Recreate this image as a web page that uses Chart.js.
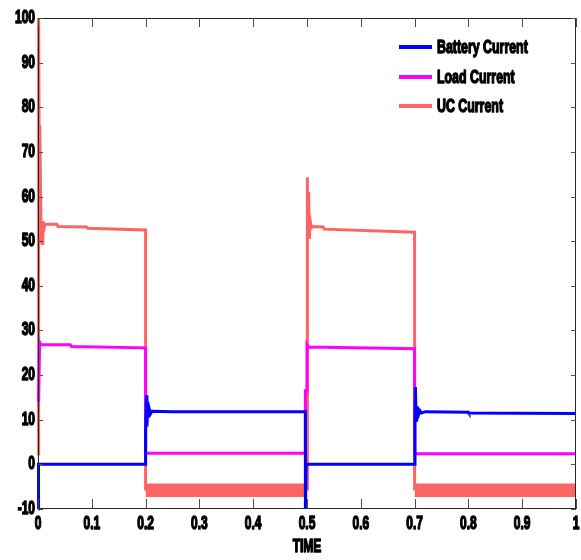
<!DOCTYPE html>
<html>
<head>
<meta charset="utf-8">
<script src="https://cdn.jsdelivr.net/npm/chart.js@4.4.1/dist/chart.umd.min.js"></script>
<style>
  html, body { margin: 0; padding: 0; background: #ffffff; }
  #wrap { width: 581px; height: 560px; position: relative; }
</style>
</head>
<body>
<div id="wrap"><canvas id="c" width="581" height="560"></canvas></div>
<script>
// ---- data ----
const xTicks = [0, 0.1, 0.2, 0.3, 0.4, 0.5, 0.6, 0.7, 0.8, 0.9, 1];
const yTicks = [-10, 0, 10, 20, 30, 40, 50, 60, 70, 80, 90, 100];
const seriesNames = ['Battery Current', 'Load Current', 'UC Current'];
const seriesColors = ['#0000ff', '#ff00ff', '#ff6464'];

const batteryT = [0.0005, 0.0005, 0.0015, 0.2, 0.2, 0.2015, 0.2025, 0.204, 0.2055, 0.207, 0.209, 0.212, 0.25, 0.497, 0.497, 0.4985, 0.7, 0.7007, 0.7015, 0.703, 0.705, 0.707, 0.71, 0.713, 0.72, 0.8, 0.801, 1];
const batteryI = [-10, -10, 0, 0, 7, 15.5, 8.5, 13, 10.5, 12.3, 11.3, 11.9, 11.8, 11.8, -10, 0, 0, 9.5, 17.3, 9.5, 13, 11, 12, 11.5, 11.8, 11.7, 11.5, 11.4];

const loadT = [0.001, 0.003, 0.005, 0.06, 0.062, 0.2, 0.2, 0.497, 0.497, 0.5, 0.5, 0.503, 0.7, 0.7, 1];
const loadI = [14, 27.3, 26.8, 26.8, 26.4, 26.1, 2.5, 2.5, 16.5, 16.5, 26.9, 26.3, 25.9, 2.4, 2.4];

const ucT = [0.0012, 0.0012, 0.002, 0.0035, 0.0045, 0.006, 0.0075, 0.009, 0.011, 0.013, 0.035, 0.037, 0.09, 0.092, 0.2, 0.2, 0.5, 0.5, 0.5015, 0.503, 0.5045, 0.506, 0.508, 0.512, 0.53, 0.532, 0.7, 0.7, 1];
const ucI = [2, 100, 76, 74, 64, 50, 49.5, 54.5, 52.8, 53.8, 53.8, 53.3, 53.2, 52.9, 52.5, -5.5, -5.5, 64.3, 57, 61, 50.5, 54.5, 53, 53.3, 53.2, 52.7, 52, -5.5, -5.5];

// switching ripple bands of the UC current (top edge, bottom edge)
const band1T = [0.2, 0.5];
const band2T = [0.7, 1];
const bandTop = -4.4;
const bandBottom = -7.3;

function pts(t, v) { return t.map((x, i) => ({ x: x, y: v[i] })); }

const FAMILY = "'Liberation Sans', Arial, sans-serif";
const tickFont = { family: FAMILY, size: 16, weight: 'bold' };
// MATLAB export look: glyphs narrower, taller and heavier than normal
const TEXT_SX = 0.75, TEXT_SY = 1.13;

const narrowTextPlugin = {
  id: 'narrowText',
  beforeDraw(chart) {
    const ctx = chart.ctx;
    if (ctx.__origFill) return;
    const orig = ctx.fillText;
    const origStroke = ctx.strokeText;
    ctx.__origFill = orig;
    ctx.fillText = function (text, x, y, maxWidth) {
      this.save();
      this.translate(x, y);
      this.scale(TEXT_SX, TEXT_SY);
      this.strokeStyle = this.fillStyle;
      this.lineWidth = 1.3;
      this.lineJoin = 'round';
      this.setLineDash([]);
      orig.call(this, text, 0, 0);
      origStroke.call(this, text, 0, 0);
      this.restore();
    };
  }
};

const framePlugin = {
  id: 'frame',
  afterDatasetsDraw(chart) {
    const { ctx, chartArea, scales } = chart;
    const { left, right, top, bottom } = chartArea;
    ctx.save();
    ctx.lineWidth = 1;
    ctx.strokeStyle = '#262626';
    ctx.strokeRect(left + 0.5, top + 0.5, right - left - 1, bottom - top - 1);
    ctx.strokeStyle = '#4d4d4d';
    ctx.beginPath();
    xTicks.forEach(v => {
      const px = Math.round(scales.x.getPixelForValue(v)) + 0.5;
      ctx.moveTo(px, bottom); ctx.lineTo(px, bottom - 10);
      ctx.moveTo(px, top); ctx.lineTo(px, top + 9);
    });
    yTicks.forEach(v => {
      const py = Math.round(scales.y.getPixelForValue(v)) + 0.5;
      ctx.moveTo(left, py); ctx.lineTo(left + 5, py);
      ctx.moveTo(right, py); ctx.lineTo(right - 5, py);
    });
    ctx.stroke();
    // legend (no box, as in the reference)
    ctx.font = "bold 16.5px " + FAMILY;
    ctx.textBaseline = 'middle';
    ctx.textAlign = 'left';
    ctx.fillStyle = '#000';
    const lx = 399, ly = 47, gap = 29.5;
    seriesNames.forEach((name, i) => {
      const yy = Math.round(ly + i * gap);
      ctx.strokeStyle = seriesColors[i];
      ctx.lineWidth = 4;
      ctx.beginPath(); ctx.moveTo(lx, yy); ctx.lineTo(lx + 33, yy); ctx.stroke();
      ctx.fillText(name, lx + 38, yy + 1);
    });
    ctx.restore();
  }
};

const lineDs = (i, t, v) => ({ label: seriesNames[i], data: pts(t, v), borderColor: seriesColors[i], borderWidth: 3, pointRadius: 0, fill: false, tension: 0, clip: 4 });

new Chart(document.getElementById('c'), {
  type: 'line',
  data: {
    datasets: [
      lineDs(0, batteryT, batteryI),
      lineDs(1, loadT, loadI),
      lineDs(2, ucT, ucI),
      { label: 'band1', data: pts(band1T, band1T.map(() => bandTop)), borderColor: seriesColors[2], backgroundColor: seriesColors[2], borderWidth: 1, pointRadius: 0, fill: { value: bandBottom }, tension: 0 },
      { label: 'band2', data: pts(band2T, band2T.map(() => bandTop)), borderColor: seriesColors[2], backgroundColor: seriesColors[2], borderWidth: 1, pointRadius: 0, fill: { value: bandBottom }, tension: 0 }
    ]
  },
  options: {
    responsive: false,
    animation: false,
    events: [],
    layout: { padding: { top: 18, right: 5, left: 0, bottom: 0 } },
    plugins: { legend: { display: false }, tooltip: { enabled: false } },
    scales: {
      x: {
        type: 'linear', min: 0, max: 1,
        afterFit(s) { s.height = 51; s.paddingLeft = 0; s.paddingRight = 0; },
        afterBuildTicks(s) { s.ticks = xTicks.map(v => ({ value: v })); },
        grid: { display: false, drawTicks: false },
        border: { display: false },
        ticks: { color: '#000', font: tickFont, padding: 5, maxRotation: 0, autoSkip: false, callback: v => String(v) },
        title: { display: true, text: 'TIME', color: '#000', font: { family: FAMILY, size: 16, weight: 'bold' }, padding: { top: 0, bottom: 3 } }
      },
      y: {
        type: 'linear', min: -10, max: 100,
        afterFit(s) { s.width = 38; s.paddingTop = 0; s.paddingBottom = 0; },
        afterBuildTicks(s) { s.ticks = yTicks.map(v => ({ value: v })); },
        grid: { display: false, drawTicks: false },
        border: { display: false },
        ticks: { color: '#000', font: tickFont, padding: 3, autoSkip: false }
      }
    }
  },
  plugins: [narrowTextPlugin, framePlugin]
});
</script>
</body>
</html>
